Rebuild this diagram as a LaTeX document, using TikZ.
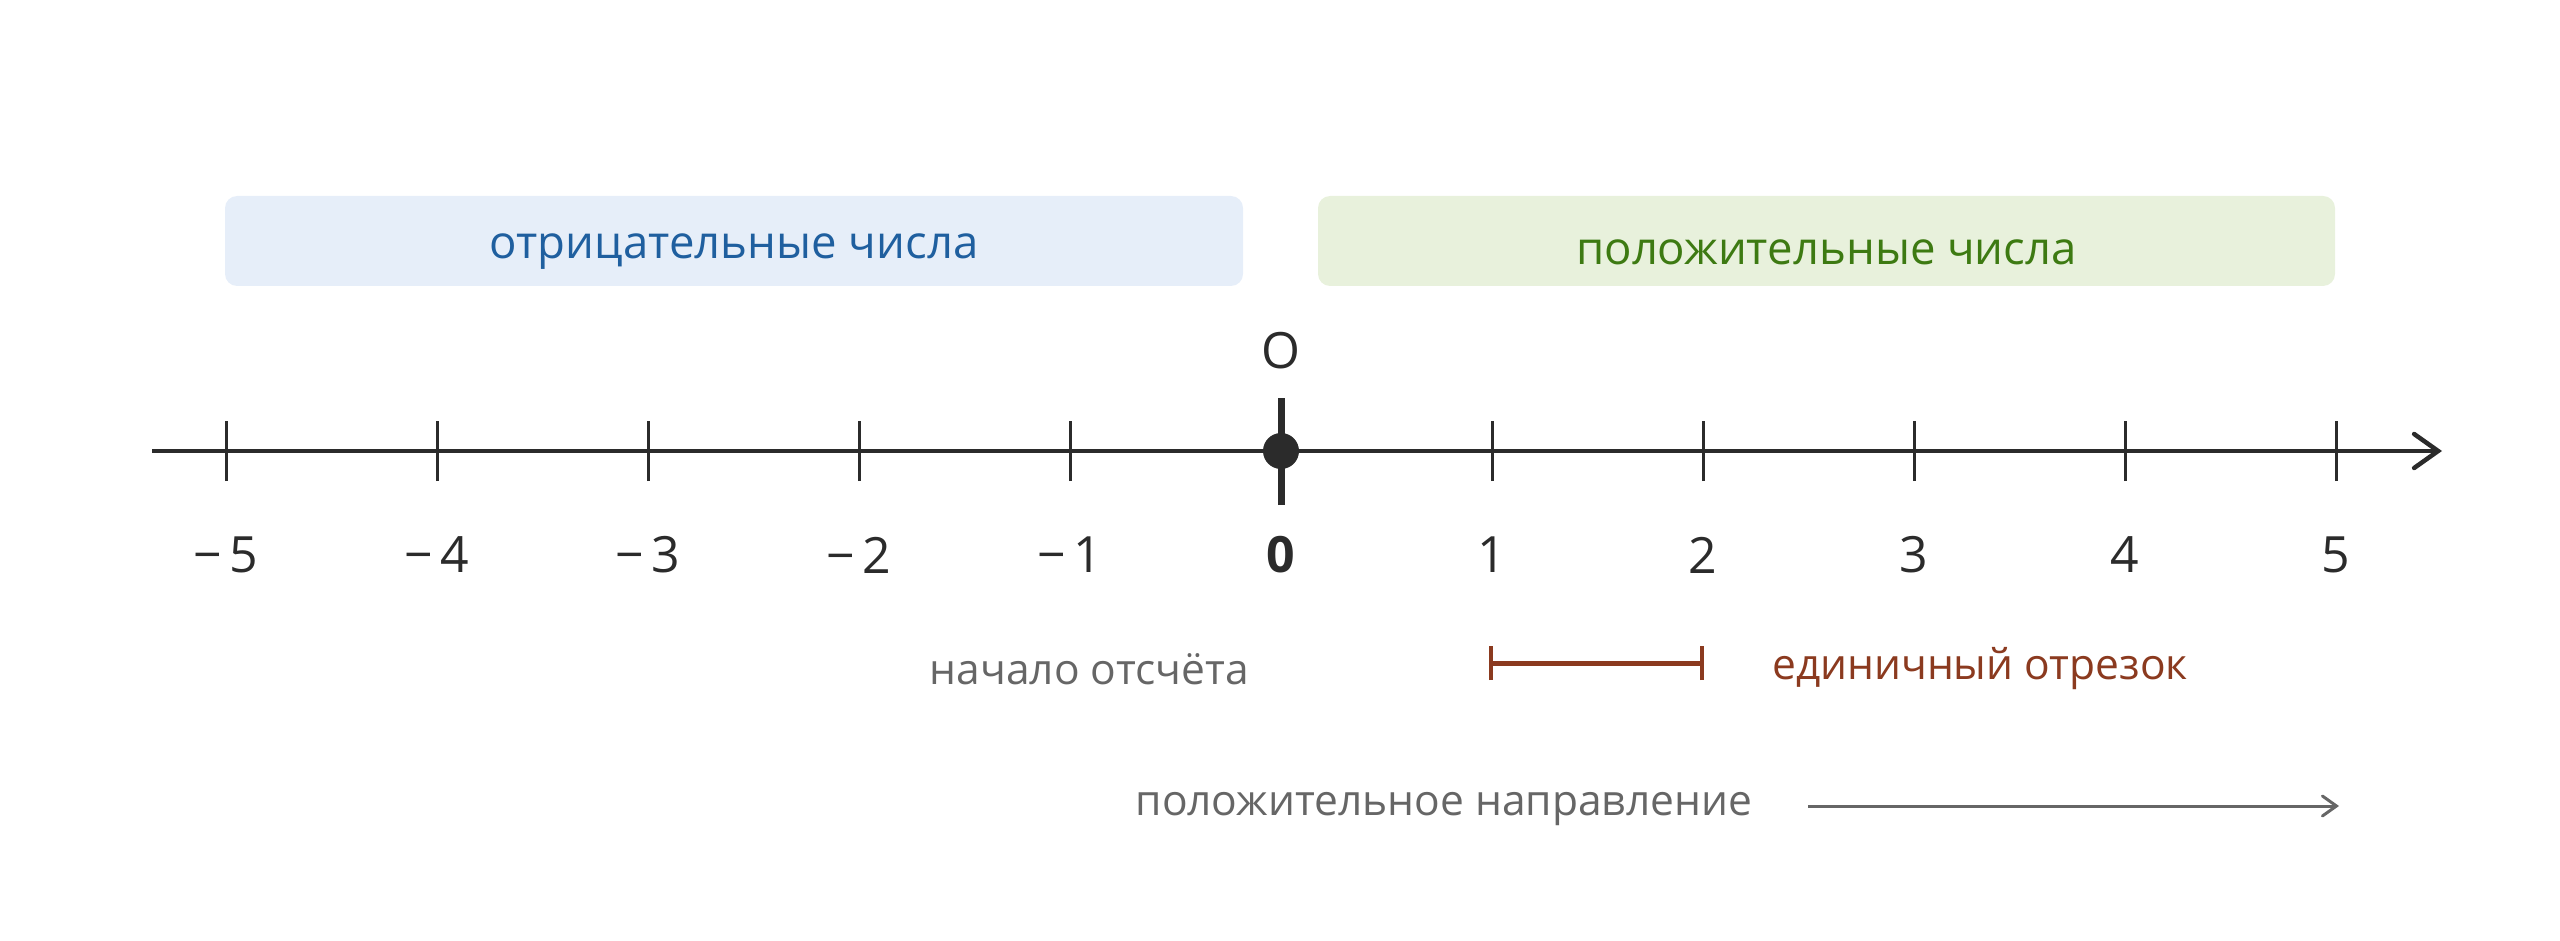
\documentclass[tikz,border=0pt]{standalone}
\usepackage{fontspec}
\setmainfont{Open Sans}
\usetikzlibrary{arrows.meta}
\definecolor{axisc}{HTML}{2B2B2B}
\definecolor{negfill}{HTML}{E6EEF9}
\definecolor{negtext}{HTML}{1F5F9F}
\definecolor{posfill}{HTML}{E8F1DC}
\definecolor{postext}{HTML}{3D7A12}
\definecolor{unitc}{HTML}{8B3A1F}
\definecolor{graytext}{HTML}{666666}
\tikzset{
  band/.style={rounded corners=12pt, inner sep=0pt, minimum height=90pt},
  bandtext/.style={font=\fontsize{45.5}{54}\selectfont, inner sep=0pt},
  ticklab/.style={font=\fontsize{50}{60}\selectfont, text=axisc, inner sep=0pt},
  note/.style={font=\fontsize{42.5}{50}\selectfont, inner sep=0pt},
  tickmark/.style={draw=axisc, line width=3pt},
}
\begin{document}
\begin{tikzpicture}[x=1pt,y=-1pt]
\useasboundingbox (0,0) rectangle (2560,941);
% bands
\node[band, fill=negfill, minimum width=1018pt] (neg) at (734,241) {};
\node[bandtext, text=negtext] (negtxt) at (734,252) {отрицательные числа};
\node[band, fill=posfill, minimum width=1017pt] (pos) at (1826.5,241) {};
\node[bandtext, text=postext] (postxt) at (1826.5,252) {положительные числа};
% axis
\coordinate (astart) at (152,451);
\coordinate (aend) at (2442,451);
\draw[axisc, line width=4.5pt, -{Straight Barb[length=24pt,width=34pt,line cap=round]}] (astart) -- (aend);
% ticks
\foreach \i in {-5,...,5} {
  \coordinate (t\i) at ({1281+211*\i},451);
}
\foreach \i in {-5,-4,-3,-2,-1,1,2,3,4,5} {
  \draw[tickmark] ([yshift=-30pt]t\i) -- ([yshift=30pt]t\i);
}
\draw[axisc, line width=7pt] ([yshift=-54pt]t0) -- ([yshift=53pt]t0);
\fill[axisc] (t0) circle (18pt);
% labels
\foreach \i in {-5,-4,-3,-2,-1} {
  \node[ticklab] (l\i) at ({1281+211*\i},555) {−\hspace{7pt}\the\numexpr-\i\relax};
}
\node[ticklab] (l0) at (1281,555) {\textbf{0}};
\foreach \i in {1,...,5} {
  \node[ticklab] (l\i) at ({1281+211*\i},555) {\i};
}
\node[ticklab] (oname) at (1281,351) {O};
% origin note
\node[note, text=graytext, anchor=east] (orig) at (1249,669) {начало отсчёта};
% unit segment
\coordinate (u1) at (1491,663);
\coordinate (u2) at (1702,663);
\draw[unitc, line width=5pt] (u1) -- (u2);
\draw[unitc, line width=4pt] ([yshift=-17pt]u1) -- ([yshift=17pt]u1);
\draw[unitc, line width=4pt] ([yshift=-17pt]u2) -- ([yshift=17pt]u2);
\node[note, text=unitc, anchor=west] (unit) at (1772,669) {единичный отрезок};
% direction
\node[note, text=graytext, anchor=east] (dir) at (1752,809) {положительное направление};
\coordinate (d1) at (1808,806);
\coordinate (d2) at (2339,806);
\draw[graytext, line width=3pt, -{Straight Barb[length=14pt,width=20pt,line cap=round]}] (d1) -- (d2);
\end{tikzpicture}
\end{document}
